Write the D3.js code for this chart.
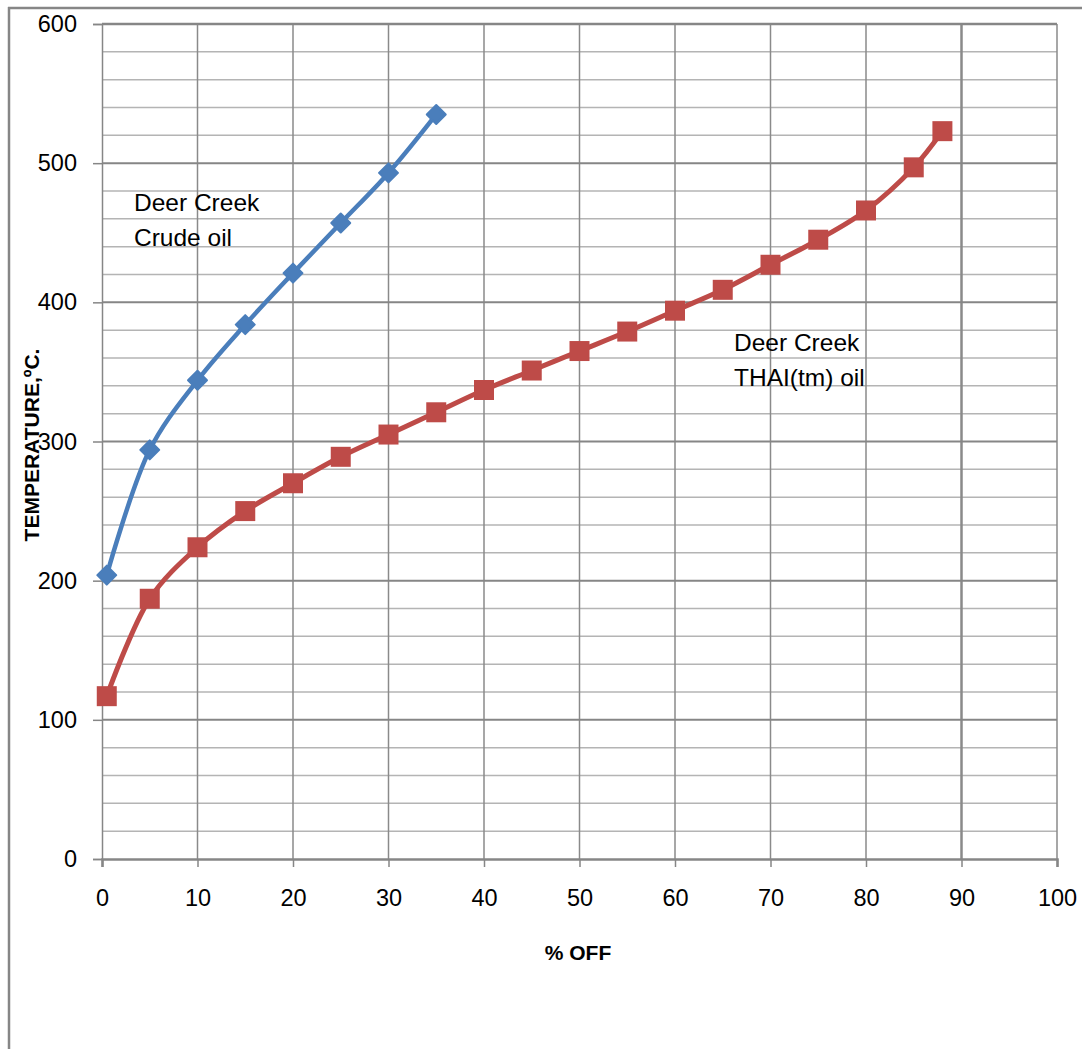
<!DOCTYPE html>
<html>
<head>
<meta charset="utf-8">
<script src="https://cdn.jsdelivr.net/npm/d3@7"></script>
<style>
html,body{margin:0;padding:0;background:#fff;}
svg{display:block;}
text{font-family:"Liberation Sans",Arial,sans-serif;}
</style>
</head>
<body>
<svg id="chart" width="1082" height="1049"></svg>
<script>
// ---- data ----
const crudePctOff = [0.5, 5, 10, 15, 20, 25, 30, 35];
const crudeTemp   = [204, 294, 344, 384, 421, 457, 493, 535];
const thaiPctOff  = [0.5, 5, 10, 15, 20, 25, 30, 35, 40, 45, 50, 55, 60, 65, 70, 75, 80, 85, 88];
const thaiTemp    = [117, 187, 224, 250, 270, 289, 305, 321, 337, 351, 365, 379, 394, 409, 427, 445, 466, 497, 523];
const xTicks = [0, 10, 20, 30, 40, 50, 60, 70, 80, 90, 100];
const yTicks = [0, 100, 200, 300, 400, 500, 600];
const yMinorTicks = d3.range(0, 601, 20);
const crudeLabel = ["Deer Creek", "Crude oil"];
const thaiLabel = ["Deer Creek", "THAI(tm) oil"];
const xTitle = "% OFF";
const yTitle = "TEMPERATURE,ºC.";

// ---- layout ----
const svg = d3.select("#chart");
const L = 102, R = 1057, T = 24, B = 859;
const x = d3.scaleLinear().domain([0, 100]).range([L, R]);
const y = d3.scaleLinear().domain([0, 600]).range([B, T]);

// outer frame
svg.append("line").attr("x1", 9).attr("x2", 9).attr("y1", 7).attr("y2", 1049)
  .attr("stroke", "#868686").attr("stroke-width", 2.5);
svg.append("line").attr("x1", 8).attr("x2", 1082).attr("y1", 8).attr("y2", 8)
  .attr("stroke", "#868686").attr("stroke-width", 2.5);

// minor horizontal gridlines
svg.append("g").selectAll("line").data(yMinorTicks.filter(v => v % 100 !== 0)).join("line")
  .attr("x1", L).attr("x2", R).attr("y1", d => y(d)).attr("y2", d => y(d))
  .attr("stroke", "#b4b4b4").attr("stroke-width", 1.5);

// vertical gridlines
svg.append("g").selectAll("line").data(xTicks.filter(v => v > 0)).join("line")
  .attr("x1", d => x(d)).attr("x2", d => x(d)).attr("y1", T).attr("y2", B)
  .attr("stroke", "#8a8a8a").attr("stroke-width", d => d === 90 ? 2.5 : 1.5);

// major horizontal gridlines
svg.append("g").selectAll("line").data(yTicks.filter(v => v > 0)).join("line")
  .attr("x1", L).attr("x2", R).attr("y1", d => y(d)).attr("y2", d => y(d))
  .attr("stroke", "#868686").attr("stroke-width", d => d === 600 ? 2.5 : 2);

// axes
const yAxis = d3.axisLeft(y).tickValues(yTicks).tickSize(9).tickPadding(16);
const gy = svg.append("g").attr("transform", `translate(${L},0)`).call(yAxis);
gy.select(".domain").attr("stroke", "#868686").attr("stroke-width", 1.5);
gy.selectAll(".tick line").attr("stroke", "#868686").attr("stroke-width", 1.5);
gy.selectAll(".tick text").attr("font-size", 23.5).attr("fill", "#000")
  .attr("font-family", "Liberation Sans, Arial, sans-serif");

const xAxis = d3.axisBottom(x).tickValues(xTicks).tickSize(8).tickPadding(22);
const gx = svg.append("g").attr("transform", `translate(0,${B})`).call(xAxis);
gx.select(".domain").attr("stroke", "#868686").attr("stroke-width", 2.5);
gx.selectAll(".tick line").attr("stroke", "#868686").attr("stroke-width", 1.5);
gx.selectAll(".tick text").attr("font-size", 23.5).attr("fill", "#000")
  .attr("font-family", "Liberation Sans, Arial, sans-serif");

// axis titles
svg.append("text").attr("x", 578).attr("y", 960).attr("text-anchor", "middle")
  .attr("font-size", 21).attr("font-weight", "bold").text(xTitle);
svg.append("text").attr("transform", "translate(39,445) rotate(-90)").attr("text-anchor", "middle")
  .attr("font-size", 21).attr("font-weight", "bold").text(yTitle);

// series
const line = d3.line().x(d => x(d[0])).y(d => y(d[1])).curve(d3.curveCatmullRom.alpha(0.5));
const crude = crudePctOff.map((v, i) => [v, crudeTemp[i]]);
const thai = thaiPctOff.map((v, i) => [v, thaiTemp[i]]);

svg.append("path").datum(crude).attr("d", line).attr("fill", "none")
  .attr("stroke", "#4a7ebb").attr("stroke-width", 4.5).attr("stroke-linejoin", "round");
svg.append("path").datum(thai).attr("d", line).attr("fill", "none")
  .attr("stroke", "#be4b48").attr("stroke-width", 5).attr("stroke-linejoin", "round");

const diamond = d3.symbol().type(d3.symbolSquare).size(180);
svg.append("g").selectAll("path").data(crude).join("path")
  .attr("d", diamond)
  .attr("transform", d => `translate(${x(d[0])},${y(d[1])}) rotate(45)`)
  .attr("fill", "#4a7ebb").attr("stroke", "#4a7ebb").attr("stroke-width", 2).attr("stroke-linejoin", "round");

const square = d3.symbol().type(d3.symbolSquare).size(400);
svg.append("g").selectAll("path").data(thai).join("path")
  .attr("d", square)
  .attr("transform", d => `translate(${x(d[0])},${y(d[1])})`)
  .attr("fill", "#be4b48");

// annotations
const t1 = svg.append("text").attr("font-size", 24.5).attr("fill", "#000");
crudeLabel.forEach((s, i) => t1.append("tspan").attr("x", 134).attr("y", 211 + i * 35).text(s));
const t2 = svg.append("text").attr("font-size", 24.5).attr("fill", "#000");
thaiLabel.forEach((s, i) => t2.append("tspan").attr("x", 734).attr("y", 351 + i * 35).text(s));
</script>
</body>
</html>
